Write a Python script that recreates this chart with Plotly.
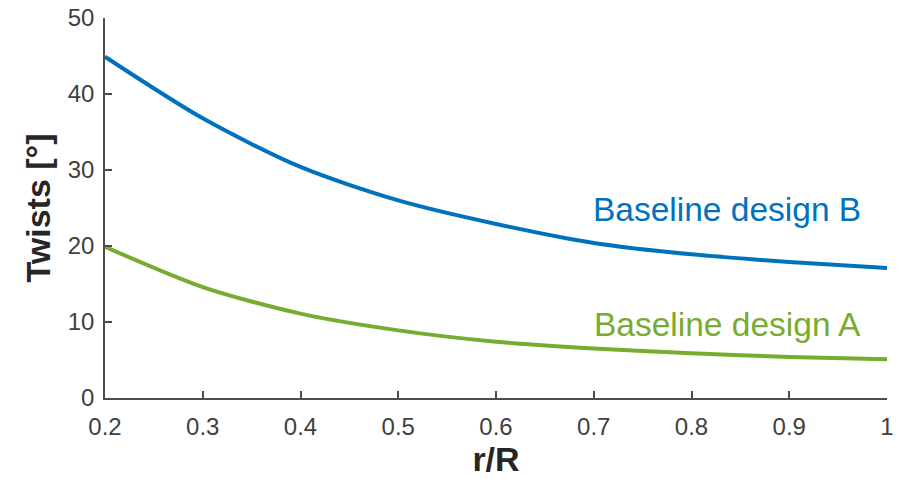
import plotly.graph_objects as go

r_over_R = [0.2, 0.3, 0.4, 0.5, 0.6, 0.7, 0.8, 0.9, 1.0]
twist_B = [44.9, 36.8, 30.4, 26.0, 22.9, 20.4, 18.9, 17.9, 17.1]
twist_A = [19.9, 14.6, 11.1, 8.9, 7.4, 6.5, 5.9, 5.4, 5.1]
x_tickvals = [0.2, 0.3, 0.4, 0.5, 0.6, 0.7, 0.8, 0.9, 1.0]
x_ticktext = ["0.2", "0.3", "0.4", "0.5", "0.6", "0.7", "0.8", "0.9", "1"]
y_tickvals = [0, 10, 20, 30, 40, 50]

BLUE = "#0072BD"
GREEN = "#77AC30"
AXIS = "#4d4d4d"
TXT = "#262626"
FONT = "Liberation Sans, Arial, sans-serif"

fig = go.Figure()
fig.add_trace(go.Scatter(x=r_over_R, y=twist_B, mode="lines", line=dict(color=BLUE, width=4, shape="spline", smoothing=0.8), showlegend=False))
fig.add_trace(go.Scatter(x=r_over_R, y=twist_A, mode="lines", line=dict(color=GREEN, width=4, shape="spline", smoothing=0.8), showlegend=False))

fig.add_annotation(x=0.9755, y=24.8, xref="x", yref="y", text="Baseline design B", showarrow=False,
                   xanchor="right", yanchor="middle", font=dict(family=FONT, size=33.5, color=BLUE))
fig.add_annotation(x=0.9755, y=9.7, xref="x", yref="y", text="Baseline design A", showarrow=False,
                   xanchor="right", yanchor="middle", font=dict(family=FONT, size=33.5, color=GREEN))

fig.update_layout(
    width=901, height=479,
    margin=dict(l=105, r=14, t=18, b=81),
    paper_bgcolor="white", plot_bgcolor="white",
    font=dict(family=FONT, color=TXT),
)
fig.update_xaxes(range=[0.2, 1.0], tickvals=x_tickvals, ticktext=x_ticktext, automargin=False,
                 showgrid=False, zeroline=False, showline=True, linecolor=AXIS, linewidth=1.5,
                 ticks="inside", ticklen=7, tickcolor=AXIS, tickwidth=1.5,
                 tickfont=dict(size=24, color="#404040"), ticklabelstandoff=6,
                 title=dict(text="<b>r/R</b>", font=dict(size=34, color=TXT), standoff=8))
fig.update_yaxes(range=[0, 50], tickvals=y_tickvals, automargin=False,
                 showgrid=False, zeroline=False, showline=True, linecolor=AXIS, linewidth=1.5,
                 ticks="inside", ticklen=7, tickcolor=AXIS, tickwidth=1.5,
                 tickfont=dict(size=24, color="#404040"), ticklabelstandoff=4,
                 title=dict(text="<b>Twists [°]</b>", font=dict(size=34, color=TXT), standoff=7))

fig.write_html("out.html")
